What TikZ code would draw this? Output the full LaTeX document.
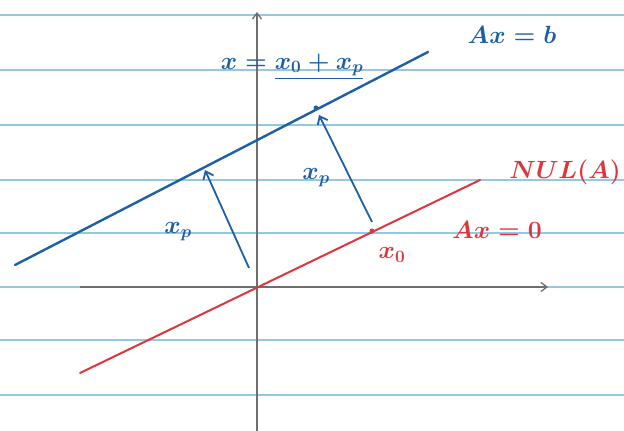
\documentclass[tikz,border=0pt]{standalone}
\usetikzlibrary{arrows.meta}
\definecolor{rule}{RGB}{150,200,225}
\definecolor{penblue}{RGB}{30,95,165}
\definecolor{penred}{RGB}{220,55,60}
\definecolor{axisgray}{RGB}{110,110,110}
\begin{document}
\begin{tikzpicture}[x=1pt,y=1pt,
  ruleline/.style={rule,line width=1.6pt},
  axisline/.style={axisgray,line width=1.3pt,-{Straight Barb[length=6pt,width=9pt]}},
  blueline/.style={penblue,line width=2.4pt,line cap=round},
  redline/.style={penred,line width=2pt,line cap=round},
  vecarrow/.style={penblue,line width=1.8pt,-{Straight Barb[length=7pt,width=11pt]}},
  bluelabel/.style={penblue,font=\fontsize{23}{27}\selectfont\boldmath},
  redlabel/.style={penred,font=\fontsize{23}{27}\selectfont\boldmath},
  dotmark/.style={circle,inner sep=0pt,minimum size=5pt}]
\useasboundingbox (0,0) rectangle (624,431);
\fill[white] (0,0) rectangle (624,431);
% ruled paper
\foreach \yy in {416,361,306,251,198,144,91,36}
  \draw[ruleline] (0,\yy) -- (624,\yy);
% axes
\coordinate (ybot) at (257,0);
\coordinate (ytop) at (257,419);
\coordinate (xl) at (80,144);
\coordinate (xr) at (548,144);
\draw[axisline] (ybot) -- (ytop);
\draw[axisline] (xl) -- (xr);
% blue line Ax=b
\coordinate (bl) at (15,166);
\coordinate (br) at (428,379);
\draw[blueline] (bl) -- (br);
\node[dotmark,fill=penblue] (xdot) at (316,323) {};
% red line Ax=0
\coordinate (rl) at (80,58);
\coordinate (rr) at (480,251);
\draw[redline] (rl) -- (rr);
\node[dotmark,fill=penred] (x0dot) at (372,200) {};
% xp arrows
\coordinate (a1s) at (372,209);
\coordinate (a1e) at (319,316);
\draw[vecarrow] (a1s) -- (a1e);
\coordinate (a2s) at (249,163);
\coordinate (a2e) at (205,261);
\draw[vecarrow] (a2s) -- (a2e);
% labels
\node[bluelabel] (lAxb) at (512,396) {$Ax=b$};
\node[bluelabel] (lsum) at (292,365) {$x=\underline{x_0+x_p}$};
\node[bluelabel] (lxp1) at (178,199) {$x_p$};
\node[bluelabel] (lxp2) at (316,253) {$x_p$};
\node[redlabel] (lnul) at (565,259) {$NUL(A)$};
\node[redlabel] (lAx0) at (497,201) {$Ax=0$};
\node[redlabel] (lx0) at (392,176) {$x_0$};
\end{tikzpicture}
\end{document}
